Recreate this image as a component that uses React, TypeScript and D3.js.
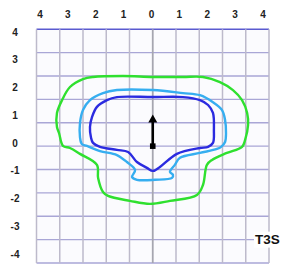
import React from "react";
import * as d3 from "d3";

// contour points in grid cells, origin at the centre of the grid
const greenContour: [number, number][] = [
  [0, 2.96], [1.3, 2.96], [2.16, 2.96], [2.89, 2.74], [3.45, 2.4], [3.84, 1.97],
  [4.06, 1.42], [4.1, 0.91], [3.97, 0.26], [3.84, -0.03], [3.19, -0.29], [2.55, -0.59],
  [2.33, -0.8], [2.16, -1.66], [1.9, -2.09], [0.74, -2.34], [-0.12, -2.47], [-0.98, -2.34],
  [-1.92, -2.13], [-2.14, -1.96], [-2.35, -1.36], [-2.4, -0.8], [-3.13, -0.33], [-3.56, -0.08],
  [-3.86, 0.01], [-4.03, 0.56], [-4.12, 0.82], [-4.12, 1.42], [-3.9, 1.97], [-3.56, 2.53],
  [-3.0, 2.87], [-2.57, 2.96], [-1.28, 3.0],
];
const lightBlueContour: [number, number][] = [
  [0, 2.4], [1.3, 2.27], [2.03, 2.18], [2.59, 1.88], [2.98, 1.54], [3.11, 1.12],
  [3.15, 0.56], [3.11, 0.18], [2.94, -0.03], [2.76, -0.12], [2.03, -0.29], [1.17, -0.5],
  [0.95, -0.8], [0.74, -1.1], [0.87, -1.23], [0.83, -1.36], [0.1, -1.44], [-0.68, -1.44],
  [-0.89, -1.32], [-0.76, -1.02], [-1.11, -0.68], [-1.54, -0.38], [-2.27, -0.21],
  [-2.83, 0.01], [-3.05, 0.09], [-3.13, 0.39], [-3.13, 0.99], [-3.0, 1.55], [-2.7, 1.97],
  [-2.14, 2.27], [-1.54, 2.4],
];
const darkBlueContour: [number, number][] = [
  [0, 2.1], [1.3, 2.1], [2.03, 1.97], [2.38, 1.76], [2.59, 1.42], [2.63, 0.69],
  [2.59, 0.14], [2.38, -0.03], [2.03, -0.08], [1.04, -0.33], [0.31, -0.89], [0.01, -1.06],
  [-0.25, -0.93], [-0.68, -0.68], [-1.06, -0.25], [-1.54, -0.16], [-2.27, -0.03],
  [-2.57, 0.14], [-2.66, 0.39], [-2.7, 0.82], [-2.61, 1.25], [-2.4, 1.68], [-1.97, 1.97],
  [-1.54, 2.1],
];
const contours = [
  {name: "outer", points: greenContour, color: "#2fe02f"},
  {name: "middle", points: lightBlueContour, color: "#36aef0"},
  {name: "inner", points: darkBlueContour, color: "#2b2be0"},
];
const arrowFrom: [number, number] = [0, 0];
const arrowTo: [number, number] = [0, 1.35];
const gridLines = d3.range(-5, 6);
const tickLabels = [-4, -3, -2, -1, 0, 1, 2, 3, 4];
const title = "T3S";

export default function App() {
  const width = 282;
  const height = 266;
  const x = d3.scaleLinear().domain([-5, 5]).range([36.5, 269]);
  const y = d3.scaleLinear().domain([-5, 5]).range([263, 29.3]);
  // the printed labels do not sit on the grid lines
  const xLabel = d3.scaleLinear().domain([-4, 4]).range([40, 263]);
  const yLabel = d3.scaleLinear().domain([-4, 4]).range([254, 32]);

  const line = d3.line<[number, number]>()
    .x(d => x(d[0]))
    .y(d => y(d[1]))
    .curve(d3.curveCatmullRomClosed.alpha(0.5));

  const ax = x(arrowFrom[0]);
  const ay0 = y(arrowFrom[1]);
  const ay1 = y(arrowTo[1]);

  return (
    <svg width={width} height={height} style={{position: "absolute", left: 0, top: 0, background: "#fff"}}
      fontFamily="Liberation Sans, Arial, sans-serif">
      <rect x={x(-5)} y={y(5)} width={x(5) - x(-5)} height={y(-5) - y(5)} fill="#fbfbfe"/>
      <g>
        {gridLines.map(g => (
          <line key={"h" + g} x1={x(-5)} x2={x(5)} y1={y(g)} y2={y(g)}
            stroke={g === 5 ? "#5a5ad0" : "#a9a6d6"} strokeWidth={g === 5 ? 1.6 : 1.4}/>
        ))}
        {gridLines.map(g => (
          <line key={"v" + g} x1={x(g)} x2={x(g)} y1={y(5)} y2={y(-5)}
            stroke={g === 0 ? "#a6a6b0" : "#bdbacb"} strokeWidth={g === 0 ? 1.8 : 1.5}/>
        ))}
      </g>
      <g fontSize="10px" fontWeight="bold" fill="#222" textAnchor="middle">
        {tickLabels.map(t => (
          <text key={"x" + t} x={xLabel(t)} y={14} dy="0.35em">{Math.abs(t)}</text>
        ))}
        {tickLabels.map(t => (
          <text key={"y" + t} x={15} y={yLabel(t)} dy="0.35em">{t}</text>
        ))}
      </g>
      <g fill="none" strokeWidth={2.4} strokeLinejoin="round">
        {contours.map(c => (
          <path key={c.name} d={line(c.points) ?? ""} stroke={c.color}/>
        ))}
      </g>
      <g>
        <line x1={ax} x2={ax} y1={ay0} y2={ay1 + 6} stroke="#000" strokeWidth={2.6}/>
        <path d={`M${ax},${ay1} L${ax - 4.5},${ay1 + 8} L${ax + 4.5},${ay1 + 8} Z`} fill="#000"/>
        <rect x={ax - 2.8} y={ay0 - 2.8} width={5.6} height={5.6} fill="#000"/>
      </g>
      <g>
        <rect x={254} y={y(-4) - 8} width={28} height={16} fill="#fff"/>
        <text x={267.5} y={y(-4)} dy="0.36em" textAnchor="middle" fontSize="13.5px" fontWeight="bold" fill="#111">{title}</text>
      </g>
    </svg>
  );
}
